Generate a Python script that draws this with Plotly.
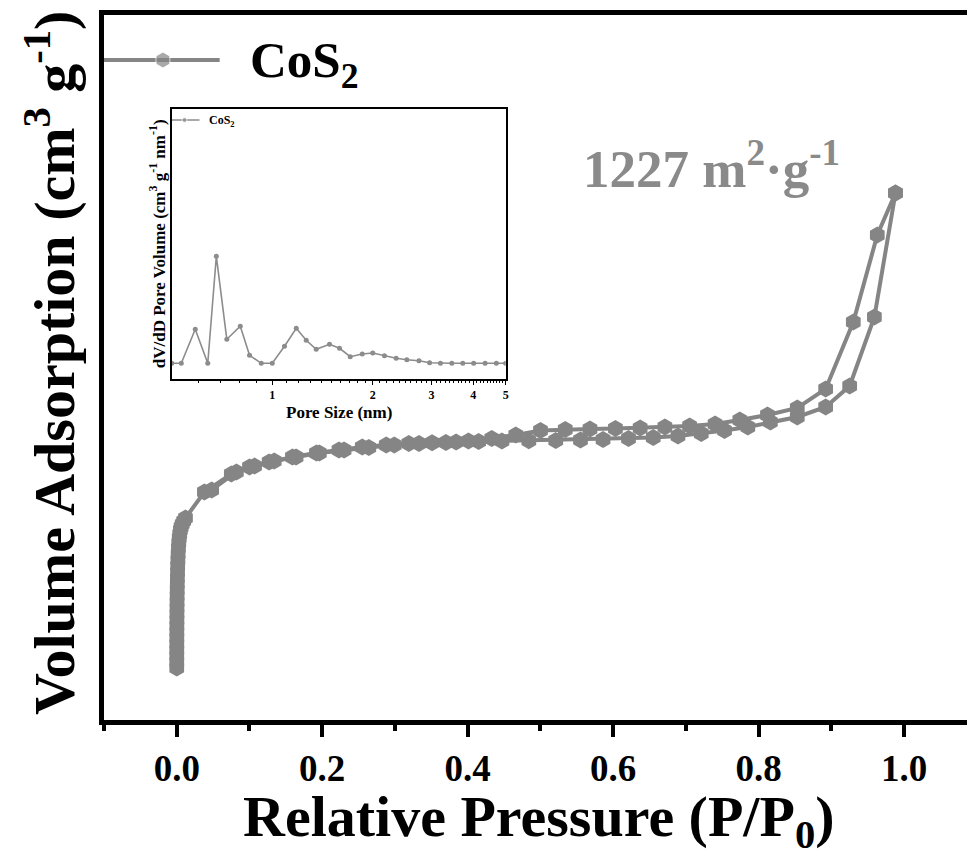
import plotly.graph_objects as go

# ---------------- data ----------------
# N2 adsorption branch (P/P0, volume)
ads_x = [0.00001, 0.00002, 0.00003, 0.00005, 0.00007, 0.0001, 0.00013, 0.00017, 0.00022,
         0.00028, 0.00035, 0.00043, 0.00052, 0.00063, 0.00076, 0.0009, 0.0011, 0.0013,
         0.0016, 0.0019, 0.0023, 0.0028, 0.0034, 0.0041, 0.005, 0.006, 0.0075, 0.0095, 0.012,
         0.038, 0.075, 0.100, 0.127, 0.159, 0.192, 0.223, 0.255, 0.288, 0.319, 0.351, 0.384,
         0.415, 0.447, 0.484, 0.521, 0.555, 0.586, 0.621, 0.655, 0.689, 0.721, 0.753, 0.785,
         0.816, 0.853, 0.892, 0.925, 0.959, 0.988]
ads_y = [62.4, 69.6, 76.8, 84.0, 91.2, 98.4, 105.6, 112.8, 120.0,
         127.2, 134.4, 141.6, 148.8, 156.0, 163.2, 170.4, 177.6, 184.8,
         192.0, 199.2, 206.4, 212.4, 218.4, 223.2, 228.0, 231.6, 235.2, 238.8, 242.4,
         273.6, 295.2, 303.6, 309.6, 315.6, 320.4, 324.0, 327.6, 330.0, 331.8, 332.6, 333.6,
         334.2, 334.8, 335.0, 335.4, 336.0, 336.6, 337.8, 339.0, 340.8, 343.8, 347.4, 351.6,
         357.6, 363.6, 375.6, 400.8, 483.6, 632.4]
# desorption branch
des_x = [0.988, 0.963, 0.930, 0.892, 0.853, 0.812, 0.774, 0.740, 0.705, 0.671, 0.637, 0.603,
         0.568, 0.534, 0.500, 0.466, 0.433, 0.401, 0.370, 0.333, 0.299, 0.264, 0.230, 0.196,
         0.164, 0.134, 0.107, 0.082, 0.048]
des_y = [632.4, 582.0, 477.6, 397.2, 374.4, 366.0, 360.0, 355.2, 352.8, 351.6, 350.4, 349.8,
         349.2, 348.6, 347.4, 342.0, 337.8, 334.8, 333.0, 331.8, 330.0, 327.0, 324.0, 320.4,
         315.6, 310.8, 304.8, 297.6, 276.0]

# pore size distribution (inset)
pore_d = [0.5, 0.534, 0.588, 0.641, 0.680, 0.731, 0.802, 0.855, 0.927, 1.0, 1.088, 1.180,
          1.264, 1.354, 1.484, 1.590, 1.712, 1.860, 2.0, 2.168, 2.35, 2.53, 2.75, 2.96, 3.19,
          3.45, 3.72, 4.01, 4.34, 4.69, 5.0]
dvdd = [0, 0, 0.034, 0, 0.107, 0.024, 0.037, 0.008, 0, 0, 0.017, 0.035, 0.023, 0.014, 0.019,
        0.015, 0.0066, 0.0093, 0.0103, 0.0076, 0.005, 0.0036, 0.0026, 0.0006, 0, 0, 0, 0, 0,
        0, 0]

series_name = "CoS<sub>2</sub>"
bet_label = "1227 m<sup>2</sup>·g<sup>-1</sup>"
x_ticks = [0.0, 0.2, 0.4, 0.6, 0.8, 1.0]
x_tick_text = ["0.0", "0.2", "0.4", "0.6", "0.8", "1.0"]
inset_ticks = [1, 2, 3, 4, 5]

# legend sample positions (in axis units)
leg_main_x = [-0.101, -0.019, 0.059]
leg_main_y = [792, 792, 792]
leg_in_x = [0.5, 0.546, 0.6055]
leg_in_y = [0.2433, 0.2433, 0.2433]

# ---------------- style ----------------
GRAY = "#858585"
FONT = "Liberation Serif, Times New Roman, serif"

fig = go.Figure()

for xs, ys in ((ads_x, ads_y), (des_x, des_y)):
    fig.add_trace(go.Scatter(
        x=xs, y=ys, mode="lines+markers",
        line=dict(color=GRAY, width=4),
        marker=dict(symbol="hexagon", size=17, color=GRAY),
        showlegend=False, xaxis="x", yaxis="y"))

# main legend sample
fig.add_trace(go.Scatter(
    x=leg_main_x, y=leg_main_y, mode="lines+markers",
    line=dict(color=GRAY, width=4),
    marker=dict(symbol="hexagon", size=[0, 16, 0], color=GRAY),
    showlegend=False, cliponaxis=False, xaxis="x", yaxis="y"))

# inset
fig.add_trace(go.Scatter(
    x=pore_d, y=dvdd, mode="lines+markers",
    line=dict(color="#8c8c8c", width=1.6),
    marker=dict(symbol="circle", size=5, color="#8c8c8c"),
    showlegend=False, xaxis="x2", yaxis="y2"))
fig.add_trace(go.Scatter(
    x=leg_in_x, y=leg_in_y, mode="lines+markers",
    line=dict(color="#8c8c8c", width=1.6),
    marker=dict(symbol="circle", size=[0, 5, 0], color="#8c8c8c"),
    showlegend=False, xaxis="x2", yaxis="y2"))

minor_vals = [round(v * 0.1, 1) for v in range(6, 50) if v % 10 != 0]

fig.update_layout(
    width=970, height=857,
    margin=dict(l=104, r=0, t=15, b=137),
    plot_bgcolor="white", paper_bgcolor="white",
    showlegend=False,
    font=dict(family=FONT, color="black"),
    xaxis=dict(
        range=[-0.1, 1.0863], domain=[0, 1],
        showline=True, linecolor="black", linewidth=5, mirror=True,
        showgrid=False, zeroline=False,
        tickmode="array", tickvals=x_ticks, ticktext=x_tick_text,
        ticks="outside", ticklen=12, tickwidth=4, tickcolor="black",
        tickfont=dict(family=FONT, size=37, weight="bold", color="black"),
        minor=dict(dtick=0.1, tick0=0, ticks="outside", ticklen=6, tickwidth=4,
                   tickcolor="black", showgrid=False),
    ),
    yaxis=dict(
        range=[0, 846], domain=[0, 1],
        showline=True, linecolor="black", linewidth=5, mirror=False,
        showgrid=False, zeroline=False, showticklabels=False, ticks="",
    ),
    xaxis2=dict(
        type="log", range=[-0.30103, 0.69897], domain=[0.0785, 0.4654], anchor="y2",
        showline=True, linecolor="black", linewidth=1.5, mirror=True,
        showgrid=False, zeroline=False,
        tickmode="array", tickvals=inset_ticks, ticktext=[str(t) for t in inset_ticks],
        ticks="outside", ticklen=4, tickwidth=1.2, tickcolor="black",
        tickfont=dict(family=FONT, size=12, weight="bold", color="black"),
        minor=dict(tickmode="array", tickvals=minor_vals, ticks="outside", ticklen=2,
                   tickwidth=1, tickcolor="black", showgrid=False),
    ),
    yaxis2=dict(
        range=[-0.0157, 0.2543], domain=[0.4837, 0.8667], anchor="x2",
        showline=True, linecolor="black", linewidth=1.5, mirror=True,
        showgrid=False, zeroline=False, showticklabels=False, ticks="",
    ),
)

annotations = [
    # main y title
    dict(text="Volume Adsorption (cm<sup>3</sup> g<sup>-1</sup>)", textangle=-90,
         x=-0.062, y=0.507, xref="paper", yref="paper", xanchor="center", yanchor="middle",
         showarrow=False, font=dict(family=FONT, size=58, weight="bold", color="black")),
    # main x title
    dict(text="Relative Pressure (P/P<sub>0</sub>)",
         x=0.5035, y=-0.142, xref="paper", yref="paper", xanchor="center", yanchor="middle",
         showarrow=False, font=dict(family=FONT, size=58, weight="bold", color="black")),
    # main legend label
    dict(text=series_name, x=0.1663, y=0.93, xref="paper", yref="paper",
         xanchor="left", yanchor="middle", showarrow=False,
         font=dict(family=FONT, size=51, weight="bold", color="black")),
    # BET label
    dict(text=bet_label, x=0.553, y=0.787, xref="paper", yref="paper",
         xanchor="left", yanchor="middle", showarrow=False,
         font=dict(family=FONT, size=53, weight="bold", color="#8a8a8a")),
    # inset y title
    dict(text="dV/dD Pore Volume (cm<sup>3</sup> g<sup>-1</sup> nm<sup>-1</sup>)", textangle=-90,
         x=0.0624, y=0.676, xref="paper", yref="paper", xanchor="center", yanchor="middle",
         showarrow=False, font=dict(family=FONT, size=17, weight="bold", color="black")),
    # inset x title
    dict(text="Pore Size (nm)", x=0.2725, y=(720 - 413) / 705, xref="paper", yref="paper",
         xanchor="center", yanchor="middle", showarrow=False,
         font=dict(family=FONT, size=17, weight="bold", color="black")),
    # inset legend label
    dict(text=series_name, x=(207 - 104) / 866, y=(720 - 121) / 705, xref="paper", yref="paper",
         xanchor="left", yanchor="middle", showarrow=False,
         font=dict(family=FONT, size=12, weight="bold", color="black")),
]
fig.update_layout(annotations=annotations)

fig.write_html("out.html")
